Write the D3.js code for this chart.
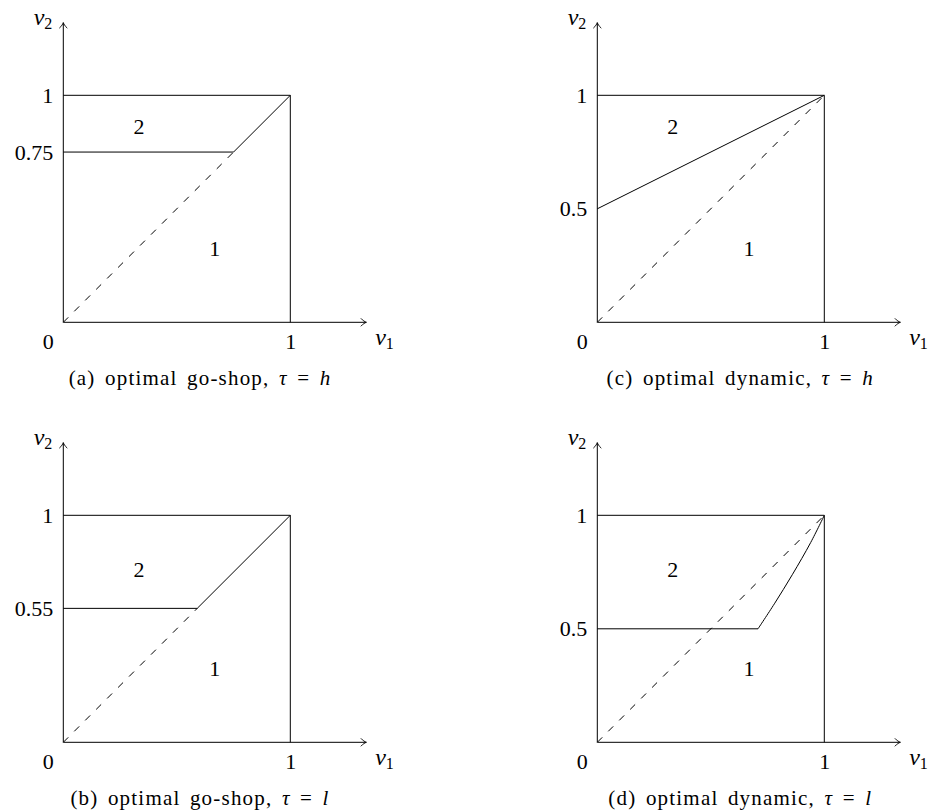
<!DOCTYPE html>
<html>
<head>
<meta charset="utf-8">
<script src="https://cdn.jsdelivr.net/npm/d3@7"></script>
<style>
body { margin: 0; background: #fff; }
text { font-family: "Liberation Serif", "Times New Roman", serif; fill: #000; }
</style>
</head>
<body>
<script>
// ---- data ----
var panelIds = ['a', 'b', 'c', 'd'];
var captionMethod = ['go-shop', 'go-shop', 'dynamic', 'dynamic'];
var captionTau = ['h', 'l', 'h', 'l'];

// y ticks: where the line is drawn / what is printed
var yTickValues = [[1, 0.75], [1, 0.59], [1, 0.5], [1, 0.5]];
var yTickLabels = [['1', '0.75'], ['1', '0.55'], ['1', '0.5'], ['1', '0.5']];
var xTickValues = [1];

// boundary between region 2 (above) and region 1 (below)
var boundaryA = [[0, 0.75], [0.75, 0.75], [1, 1]];
var boundaryB = [[0, 0.59], [0.59, 0.59], [1, 1]];
var boundaryC = [[0, 0.5], [1, 1]];
var boundaryDFlat = [[0, 0.5], [0.708, 0.5]];
var boundaryDCurve = [[0.708, 0.5], [0.78, 0.61], [0.86, 0.74], [0.94, 0.88], [1, 1]];

// dashed 45-degree line ends
var dashEnds = [[0.75, 0.75], [0.59, 0.59], [1, 1], [1, 1]];

// region labels
var region2Pos = [[0.334, 0.865], [0.334, 0.76], [0.332, 0.865], [0.332, 0.76]];
var region1Pos = [[0.667, 0.327], [0.667, 0.327], [0.668, 0.327], [0.668, 0.327]];

// ---- layout ----
var W = 933, H = 811;
var unit = 227;
var colX = [63.3, 597.3], rowY = [322.3, 742.3];
var captionX = [200, 740.3];
var fs = 22;

var svg = d3.select('body').append('svg')
	.attr('width', W)
	.attr('height', H)
	.attr('font-family', '"Liberation Serif", serif');

svg.append('defs').append('marker')
		.attr('id', 'arrow')
		.attr('viewBox', '-7 -5 8 10')
		.attr('markerWidth', 8)
		.attr('markerHeight', 10)
		.attr('refX', 0)
		.attr('refY', 0)
		.attr('markerUnits', 'userSpaceOnUse')
		.attr('orient', 'auto')
	.append('path')
		.attr('d', 'M-5.5,-4 C-3.5,-1.6 -1,-0.4 0,0 C-1,0.4 -3.5,1.6 -5.5,4')
		.attr('fill', 'none')
		.attr('stroke', '#000')
		.attr('stroke-width', 0.9);

var x = d3.scaleLinear().domain([0, 1]).range([0, unit]);
var y = d3.scaleLinear().domain([0, 1]).range([0, -unit]);
var line = d3.line().x(function(d) { return x(d[0]); }).y(function(d) { return y(d[1]); });
var curve = d3.line().curve(d3.curveCatmullRom.alpha(0.5))
	.x(function(d) { return x(d[0]); }).y(function(d) { return y(d[1]); });

var boundaries = [[boundaryA], [boundaryB], [boundaryC], [boundaryDFlat]];

panelIds.forEach(function(id, i) {
	var col = i < 2 ? 0 : 1, row = i % 2;
	var g = svg.append('g')
		.attr('transform', 'translate(' + colX[col] + ',' + rowY[row] + ')');

	// axes with arrows
	g.append('line')
		.attr('x1', x(0)).attr('y1', y(0)).attr('x2', x(1.335)).attr('y2', y(0))
		.attr('stroke', '#000').attr('stroke-width', 1)
		.attr('marker-end', 'url(#arrow)');
	g.append('line')
		.attr('x1', x(0)).attr('y1', y(0)).attr('x2', x(0)).attr('y2', y(1.32))
		.attr('stroke', '#000').attr('stroke-width', 1)
		.attr('marker-end', 'url(#arrow)');

	// tick labels (no tick marks)
	var xAxis = d3.axisBottom(x).tickValues(xTickValues).tickFormat(d3.format('d'))
		.tickSize(0).tickPadding(11);
	var yAxis = d3.axisLeft(y).tickValues(yTickValues[i])
		.tickFormat(function(d, k) { return yTickLabels[i][k]; })
		.tickSize(0).tickPadding(10);
	[g.append('g').call(xAxis), g.append('g').call(yAxis)].forEach(function(a) {
		a.select('.domain').remove();
		a.attr('font-family', null).attr('font-size', null);
		a.selectAll('text').attr('font-size', fs).attr('fill', '#000');
	});
	g.append('text')
		.attr('x', -15).attr('y', 27)
		.attr('text-anchor', 'middle')
		.attr('font-size', fs)
		.text('0');

	// axis names
	var v1 = g.append('text').attr('x', x(1.33) + 10).attr('y', 23).attr('font-size', 24);
	v1.append('tspan').attr('font-style', 'italic').text('v');
	v1.append('tspan').attr('font-size', 16).attr('dy', 4).text('1');
	var v2 = g.append('text').attr('x', -11).attr('y', y(1.32) + 2)
		.attr('text-anchor', 'end').attr('font-size', 24);
	v2.append('tspan').attr('font-style', 'italic').text('v');
	v2.append('tspan').attr('font-size', 16).attr('dy', 4).text('2');

	// unit square top and right sides
	g.append('path').datum([[0, 1], [1, 1], [1, 0]])
		.attr('d', line).attr('fill', 'none')
		.attr('stroke', '#000').attr('stroke-width', 1);

	// dashed diagonal
	g.append('path').datum([[0, 0], dashEnds[i]])
		.attr('d', line).attr('fill', 'none')
		.attr('stroke', '#000').attr('stroke-width', 1)
		.attr('stroke-dasharray', '7,8.5');

	// boundary
	boundaries[i].forEach(function(b) {
		g.append('path').datum(b)
			.attr('d', line).attr('fill', 'none')
			.attr('stroke', '#000').attr('stroke-width', 1);
	});
	if (id === 'd') {
		g.append('path').datum(boundaryDCurve)
			.attr('d', curve).attr('fill', 'none')
			.attr('stroke', '#000').attr('stroke-width', 1);
	}

	// region labels
	[[region2Pos[i], '2'], [region1Pos[i], '1']].forEach(function(r) {
		g.append('text')
			.attr('x', x(r[0][0])).attr('y', y(r[0][1]))
			.attr('dy', '0.35em')
			.attr('text-anchor', 'middle')
			.attr('font-size', fs)
			.text(r[1]);
	});

	// caption
	var cap = g.append('text')
		.attr('x', captionX[col] - colX[col]).attr('y', 63)
		.attr('text-anchor', 'middle')
		.attr('font-size', 21)
		.attr('letter-spacing', 1.2)
		.attr('word-spacing', 3);
	cap.append('tspan').text('(' + id + ') optimal ' + captionMethod[i] + ', ');
	cap.append('tspan').attr('font-style', 'italic').text('\u03c4');
	cap.append('tspan').text(' = ');
	cap.append('tspan').attr('font-style', 'italic').text(captionTau[i]);
});
</script>
</body>
</html>
